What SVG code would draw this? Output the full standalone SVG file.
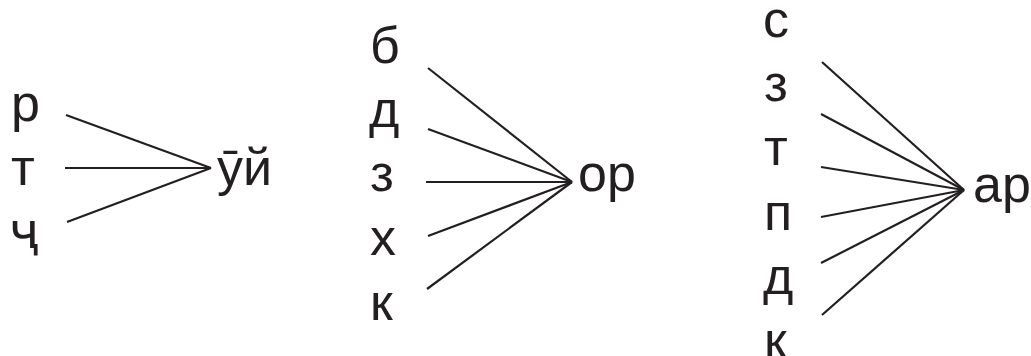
<svg xmlns="http://www.w3.org/2000/svg" width="1031" height="356" viewBox="0 0 1031 356">
<style>
text{font-family:"Liberation Sans",Arial,"DejaVu Sans",sans-serif;font-size:52px;fill:#231f20}
.c line{stroke:#231f20;stroke-width:2.2;stroke-linecap:butt}
</style>
<rect width="1031" height="356" fill="#fff"/>
<g id="n-r"><text x="11" y="121">р</text></g>
<g id="n-t1"><text x="11" y="185">т</text></g>
<g id="n-ch"><text x="11" y="248">ҷ</text></g>
<g id="n-uy"><text x="217" y="185">ӯй</text></g>
<g id="n-b"><text x="370" y="63">б</text></g>
<g id="n-d1"><text x="369" y="127">д</text></g>
<g id="n-z1"><text x="370" y="191">з</text></g>
<g id="n-kh"><text x="370" y="255">х</text></g>
<g id="n-k1"><text x="370" y="320">к</text></g>
<g id="n-or"><text x="578" y="191">ор</text></g>
<g id="n-s"><text x="763" y="37">с</text></g>
<g id="n-z2"><text x="764" y="101">з</text></g>
<g id="n-t2"><text x="764" y="165">т</text></g>
<g id="n-p"><text x="764" y="230">п</text></g>
<g id="n-d2"><text x="763" y="294">д</text></g>
<g id="n-k2"><text x="764" y="358">к</text></g>
<g id="n-ar"><text x="973" y="202">ар</text></g>
<g class="c" id="connectors">
<line x1="66" y1="115" x2="211" y2="168"/>
<line x1="65" y1="168" x2="211" y2="168"/>
<line x1="67" y1="222" x2="211" y2="168"/>
<line x1="428" y1="68" x2="572" y2="182"/>
<line x1="428" y1="129" x2="572" y2="182"/>
<line x1="426" y1="182" x2="572" y2="182"/>
<line x1="428" y1="236" x2="572" y2="182"/>
<line x1="427" y1="289" x2="572" y2="182"/>
<line x1="822" y1="62" x2="964" y2="190"/>
<line x1="821" y1="114" x2="964" y2="190"/>
<line x1="821" y1="167" x2="964" y2="190"/>
<line x1="821" y1="217" x2="964" y2="190"/>
<line x1="821" y1="263" x2="964" y2="190"/>
<line x1="822" y1="315" x2="964" y2="190"/>
</g>
</svg>
